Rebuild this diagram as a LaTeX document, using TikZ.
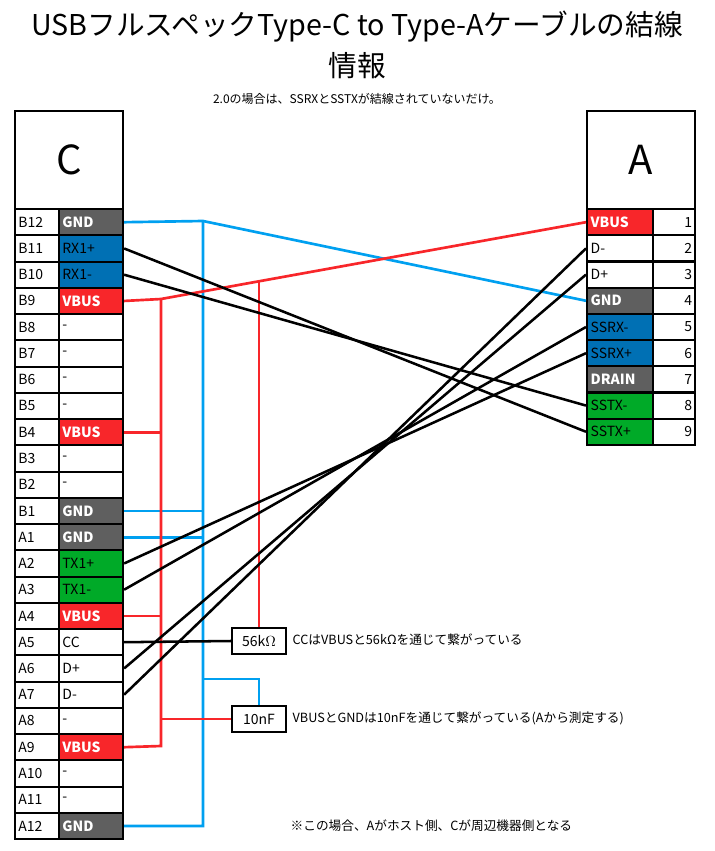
\documentclass[tikz,border=0pt]{standalone}
\usepackage{fontspec}
\setmainfont{Noto Sans CJK JP}
\begin{document}
\definecolor{cred}{HTML}{F8262A}
\definecolor{cblue}{HTML}{0070B4}
\definecolor{cgreen}{HTML}{00AA28}
\definecolor{cgray}{HTML}{5F5F5F}
\definecolor{lblue}{HTML}{00A0F0}
\begin{tikzpicture}[x=0.75pt,y=-0.75pt,
  cell/.style={draw,line width=1.6pt,inner sep=0pt,minimum height=19.69pt,anchor=north west,font=\fontsize{10.5}{12}\selectfont},
  lab/.style={cell,minimum width=33pt,text width=28pt,align=left},
  sig/.style={cell,minimum width=48pt,text width=43pt,align=left},
  rsig/.style={cell,minimum width=49.5pt,text width=44pt,align=left,minimum height=19.65pt},
  num/.style={cell,minimum width=31.5pt,text width=27pt,align=right,minimum height=19.65pt},
  gnd/.style={fill=cgray,text=white,font=\fontsize{10.5}{12}\selectfont\bfseries},
  vbus/.style={fill=cred,text=white,font=\fontsize{10.5}{12}\selectfont\bfseries},
  rx/.style={fill=cblue},
  tx/.style={fill=cgreen},
  bw/.style={line width=1.9pt},
  rw/.style={cred,line width=2pt},
  gw/.style={lblue,line width=2pt},
  box/.style={draw,line width=1.6pt,minimum width=40.5pt,minimum height=19.5pt,inner sep=0pt,font=\fontsize{10.5}{12}\selectfont},
  note/.style={anchor=west,font=\fontsize{9.5}{11}\selectfont}]
\useasboundingbox (0,0) rectangle (715,851);
\node[font=\fontsize{21.5}{26}\selectfont] (t1) at (357,27) {USBフルスペックType-C to Type-Aケーブルの結線};
\node[font=\fontsize{21.5}{26}\selectfont] (t2) at (357,66) {情報};
\node[font=\fontsize{9}{10}\selectfont] (t3) at (357,99) {2.0の場合は、SSRXとSSTXが結線されていないだけ。};
% headers
\node[draw,line width=1.6pt,minimum width=81pt,minimum height=73.5pt,inner sep=0pt,anchor=north west,font=\fontsize{30}{36}\selectfont] (hc) at (14,110) {C};
\node[draw,line width=1.6pt,minimum width=81pt,minimum height=73.5pt,inner sep=0pt,anchor=north west,font=\fontsize{30}{36}\selectfont] (ha) at (586,110) {A};
% left rows
\foreach \i/\l/\s/\st in {0/B12/GND/gnd,1/B11/RX1+/rx,2/B10/RX1-/rx,3/B9/VBUS/vbus,4/B8/-/cell,5/B7/-/cell,6/B6/-/cell,7/B5/-/cell,8/B4/VBUS/vbus,9/B3/-/cell,10/B2/-/cell,11/B1/GND/gnd,12/A1/GND/gnd,13/A2/TX1+/tx,14/A3/TX1-/tx,15/A4/VBUS/vbus,16/A5/CC/cell,17/A6/D+/cell,18/A7/D-/cell,19/A8/-/cell,20/A9/VBUS/vbus,21/A10/-/cell,22/A11/-/cell,23/A12/GND/gnd}{
  \node[lab] (ll\i) at (14,208+26.25*\i) {\l};
  \node[sig,\st] (L\i) at (58,208+26.25*\i) {\s};
}
% right rows
\foreach \j/\s/\st in {1/VBUS/vbus,2/D-/cell,3/D+/cell,4/GND/gnd,5/SSRX-/rx,6/SSRX+/rx,7/DRAIN/gnd,8/SSTX-/tx,9/SSTX+/tx}{
  \node[rsig,\st] (R\j) at (586,208+26.2*\j-26.2) {\s};
  \node[num] (n\j) at (652,208+26.2*\j-26.2) {\j};
}
% boxes
\node[box] (res) at (259,641) {56k$\Omega$};
\node[box] (cap) at (259,719) {10nF};
\node[note] (c1) at (288,640) {CCはVBUSと56kΩを通じて繋がっている};
\node[note] (c2) at (288,718) {VBUSとGNDは10nFを通じて繋がっている(Aから測定する)};
\node[note] (c3) at (286,826) {※この場合、Aがホスト側、Cが周辺機器側となる};
% junctions
\coordinate (g0) at (203,221);
\coordinate (g1) at (203,826);
\coordinate (gc) at (203,679);
\coordinate (v0) at (161,299);
\coordinate (v1) at (161,746);
\coordinate (vc) at (161,719);
\coordinate (vr) at (259,281);
% GND
\draw[gw] (L0.east) -- (g0) -- (R4.west);
\draw[gw] (g0) -- (g1) -- (L23.east);
\draw[gw] (L11.east) -- (L11.east -| g0);
\draw[gw] (L12.east) -- (L12.east -| g0);
\draw[gw] (gc) -| (cap.north);
% VBUS
\draw[rw] (L3.east) -- (v0) -- (R1.west);
\draw[rw] (v0) -- (v1) -- (L20.east);
\draw[rw] (L8.east) -- (L8.east -| v0);
\draw[rw] (L15.east) -- (L15.east -| v0);
\draw[rw] (vc) -- (cap.west);
\draw[rw] (vr) -- (res.north);
% signals
\draw[bw] (L16.east) -- (res.west);
\draw[bw] (L1.east) -- (R9.west);
\draw[bw] (L2.east) -- (R8.west);
\draw[bw] (L13.east) -- (R6.west);
\draw[bw] (L14.east) -- (R5.west);
\draw[bw] (L17.east) -- (R3.west);
\draw[bw] (L18.east) -- (R2.west);
\end{tikzpicture}
\end{document}
